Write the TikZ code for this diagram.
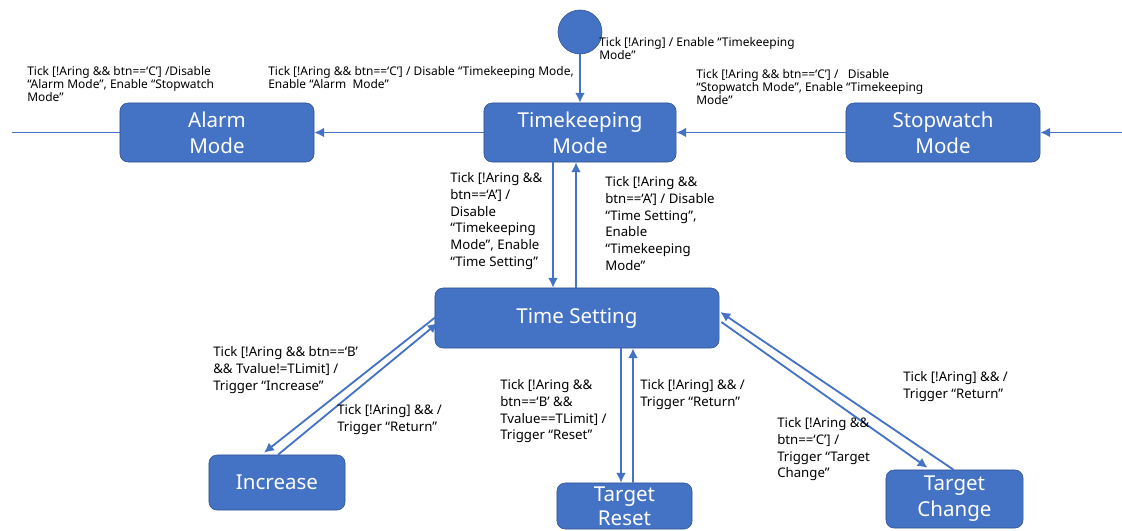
\documentclass[tikz,border=0pt]{standalone}
\usepackage{fontspec}
\setmainfont{Noto Sans}
\usepackage{tikz}
\usepackage{xcolor}
\usetikzlibrary{shapes.geometric, arrows.meta, calc}
\definecolor{stblue}{HTML}{4472C4}
\definecolor{stedge}{HTML}{2F528F}
\tikzstyle{state} = [rectangle, rounded corners=0.2cm, fill=stblue, draw=stedge, text=white, align=center, font=\fontsize{14.6}{18.5}\selectfont]
\tikzstyle{start} = [circle, fill=stblue, draw=stedge, minimum size=1.1cm, inner sep=0pt]
\tikzstyle{arrow} = [line width=1.3pt, draw=stblue, -{Latex[length=7pt,width=7pt]}]
\tikzstyle{plain} = [line width=1.3pt, draw=stblue]
\tikzstyle{guard} = [anchor=north west, inner sep=0pt, align=left, font=\fontsize{9.4}{12}\selectfont]
\tikzstyle{smallguard} = [anchor=north west, inner sep=0pt, align=left, font=\fontsize{8.5}{9.4}\selectfont]

\begin{document}
\begin{tikzpicture}[x=0.025cm, y=-0.025cm]
    \useasboundingbox (0,0) rectangle (1122,531);
    % states
    \node (init) [start] at (580,32) {};
    \node (tk) [state, minimum width=4.8cm, minimum height=1.475cm] at (580,132.5) {Timekeeping\\Mode};
    \node (alarm) [state, minimum width=4.85cm, minimum height=1.475cm] at (217,132.5) {Alarm\\Mode};
    \node (stopw) [state, minimum width=4.85cm, minimum height=1.475cm] at (943,132.5) {Stopwatch\\Mode};
    \node (ts) [state, minimum width=7.1cm, minimum height=1.5cm] at (577,318) {Time Setting};
    \node (inc) [state, minimum width=3.4cm, minimum height=1.375cm] at (277,482.5) {Increase};
    \node (reset) [state, minimum width=3.375cm, minimum height=1.15cm, inner sep=1pt, font=\fontsize{14.6}{17}\selectfont] at (624.5,506) {Target\\Reset};
    \node (change) [state, minimum width=3.425cm, minimum height=1.45cm] at (954.5,499) {Target\\Change};
    \coordinate (offL) at (12,132.5);
    \coordinate (offR) at (1122,132.5);

    % top row
    \draw [arrow] (init) -- (tk);
    \draw [arrow] (tk.west) -- (alarm.east);
    \draw [arrow] (stopw.west) -- (tk.east);
    \draw [plain] (alarm.west) -- (offL);
    \draw [arrow] (offR) -- (stopw.east);
    \node (g1) [smallguard] at (27,66) {Tick [!Aring \&\& btn==‘C’] /Disable\\“Alarm Mode”, Enable “Stopwatch\\Mode”};
    \node (g2) [smallguard] at (268,66) {Tick [!Aring \&\& btn==‘C’] / Disable “Timekeeping Mode,\\Enable “Alarm~~Mode”};
    \node (g3) [smallguard] at (599,37) {Tick [!Aring] / Enable “Timekeeping\\Mode”};
    \node (g4) [smallguard] at (696,69) {Tick [!Aring \&\& btn==‘C’] /~~~Disable\\“Stopwatch Mode”, Enable “Timekeeping\\Mode”};

    % timekeeping <-> time setting
    \draw [arrow] ($(tk.south)+(-27,0)$) -- ($(ts.north)+(-24,0)$);
    \draw [arrow] ($(ts.north)+(-1,0)$) -- ($(tk.south)+(-4,0)$);
    \node (g5) [guard] at (450,172) {Tick [!Aring \&\&\\btn==‘A’] /\\Disable\\“Timekeeping\\Mode”, Enable\\“Time Setting”};
    \node (g6) [guard] at (605,176) {Tick [!Aring \&\&\\btn==‘A’] / Disable\\“Time Setting”,\\Enable\\“Timekeeping\\Mode”};

    % time setting <-> increase
    \draw [arrow] ($(ts.west)+(1,-1)$) -- ($(inc.north)+(-13,-2)$);
    \draw [arrow] ($(inc.north)+(1,0)$) -- ($(ts.west)+(3,5)$);
    \node (g7) [guard] at (213,346) {Tick [!Aring \&\& btn==‘B’\\\&\& Tvalue!=TLimit] /\\Trigger “Increase”};
    \node (g8) [guard] at (337,404) {Tick [!Aring] \&\& /\\Trigger “Return”};

    % time setting <-> target reset
    \draw [arrow] ($(ts.south)+(44,0)$) -- ($(reset.north)+(-3.5,0)$);
    \draw [arrow] ($(reset.north)+(8.5,0)$) -- ($(ts.south)+(56,0)$);
    \node (g9) [guard] at (500,379) {Tick [!Aring \&\&\\btn==‘B’ \&\&\\Tvalue==TLimit] /\\Trigger “Reset”};
    \node (g10) [guard] at (640,379) {Tick [!Aring] \&\& /\\Trigger “Return”};

    % time setting <-> target change
    \draw [arrow] ($(ts.east)+(2,4)$) -- ($(change.north)+(-27,-2)$);
    \draw [arrow] ($(change.north)+(-1,0)$) -- ($(ts.east)+(1,-6)$);
    \node (g11) [guard] at (777,417) {Tick [!Aring \&\&\\btn==‘C’] /\\Trigger “Target\\Change”};
    \node (g12) [guard] at (903,371) {Tick [!Aring] \&\& /\\Trigger “Return”};

\end{tikzpicture}
\end{document}
